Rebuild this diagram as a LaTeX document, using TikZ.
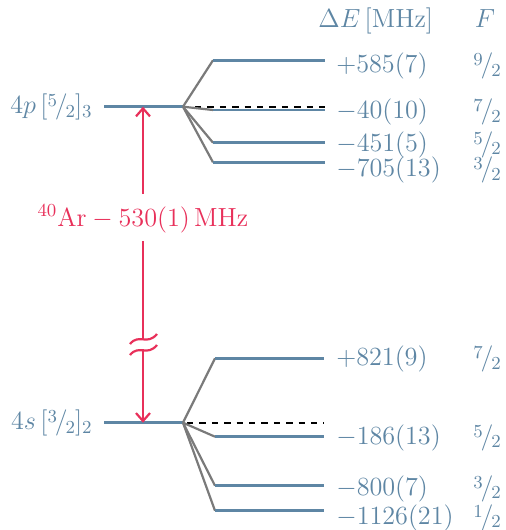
\RequirePackage{fix-cm}
\documentclass[tikz,border=0pt]{standalone}
\usetikzlibrary{arrows.meta}
\definecolor{hfblue}{HTML}{5E86A4}
\definecolor{hfgray}{HTML}{7A7A7A}
\definecolor{hfred}{HTML}{E8305A}
\newcommand{\hfrac}[2]{\raisebox{0.6ex}{$\scriptstyle #1$}\kern-0.08em/\kern-0.08em\raisebox{-0.35ex}{$\scriptstyle #2$}}

\begin{document}
\begin{tikzpicture}[x=0.5pt, y=-0.5pt, font=\fontsize{13.1}{16}\selectfont,
    lvl/.style={hfblue, line width=1.3pt},
    fan/.style={hfgray, line width=1.1pt},
    zero/.style={black, line width=1.1pt, dash pattern=on 3.2pt off 3pt},
    trans/.style={hfred, line width=1.1pt},
    val/.style={text=hfblue, inner sep=0pt, anchor=base west},
    fval/.style={text=hfblue, inner sep=0pt, anchor=base},
    term/.style={text=hfblue, inner sep=0pt, anchor=base east}]

\useasboundingbox (0,0) rectangle (505,530);

% --- headers ---------------------------------------------------------------
\node[val] (hE) at (318,27) {$\Delta E\,[\mathrm{MHz}]$};
\node[fval] (hF) at (485,27) {$F$};

% --- fine-structure levels ---------------------------------------------------
\coordinate (p0) at (104,106.7);
\coordinate (pfan) at (183,106.7);
\coordinate (s0) at (104,422.7);
\coordinate (sfan) at (183,422.7);
\draw[lvl] (p0) -- (pfan);
\draw[lvl] (s0) -- (sfan);
\node[term] (p) at (93,113.3) {$4p\,[\hfrac{5}{2}]_{3}$};
\node[term] (s) at (93,429.3) {$4s\,[\hfrac{3}{2}]_{2}$};

% centroid (dashed)
\coordinate (pz) at (325,106.7);
\coordinate (sz) at (324,422.7);
\draw[zero] ([xshift=6pt]pfan) -- (pz);
\draw[zero] ([xshift=2pt]sfan) -- (sz);

% --- hyperfine levels --  level y/baseline/shift/F ---------------------------
\foreach \n/\y/\b/\dE/\F in {%
    a/60.3/72.7/{+585(7)}/9,
    b/110/118.3/{-40(10)}/7,
    c/142.7/151/{-451(5)}/5,
    d/162.3/176.5/{-705(13)}/3}
{
  \coordinate (p\n) at (213,\y);
  \draw[fan] (pfan) -- (p\n);
  \draw[lvl] (p\n) -- (325,\y);
  \node[val] (pv\n) at (336,\b) {$\dE$};
  \node[fval] (pf\n) at (487,\b) {$\hfrac{\F}{2}$};
}
\foreach \n/\y/\b/\dE/\F in {%
    a/358.3/365.7/{+821(9)}/7,
    b/436.7/444/{-186(13)}/5,
    c/485.7/495/{-800(7)}/3,
    d/510.7/524/{-1126(21)}/1}
{
  \coordinate (s\n) at (215,\y);
  \draw[fan] (sfan) -- (s\n);
  \draw[lvl] (s\n) -- (324,\y);
  \node[val] (sv\n) at (336,\b) {$\dE$};
  \node[fval] (sf\n) at (487,\b) {$\hfrac{\F}{2}$};
}

% --- isotope shift -----------------------------------------------------------
\node[text=hfred, inner sep=0pt, anchor=base] (iso) at (143,226)
  {$^{40}\mathrm{Ar}-530(1)\,\mathrm{MHz}$};
\coordinate (ptip) at (143,106.7);
\coordinate (stip) at (143,422.7);
\coordinate (itop) at (143,194);
\coordinate (ibot) at (143,241);
\draw[trans, -{Straight Barb[length=4pt, width=7pt]}] (itop) -- (ptip);
\draw[trans] (ibot) -- (143,339);
\draw[trans, -{Straight Barb[length=4pt, width=7pt]}] (143,349) -- (stip);
% axis break
\draw[trans] (130,344) .. controls (139,333) and (147,346) .. (157,334);
\draw[trans] (130,355) .. controls (139,344) and (147,357) .. (157,345);
\end{tikzpicture}
\end{document}
